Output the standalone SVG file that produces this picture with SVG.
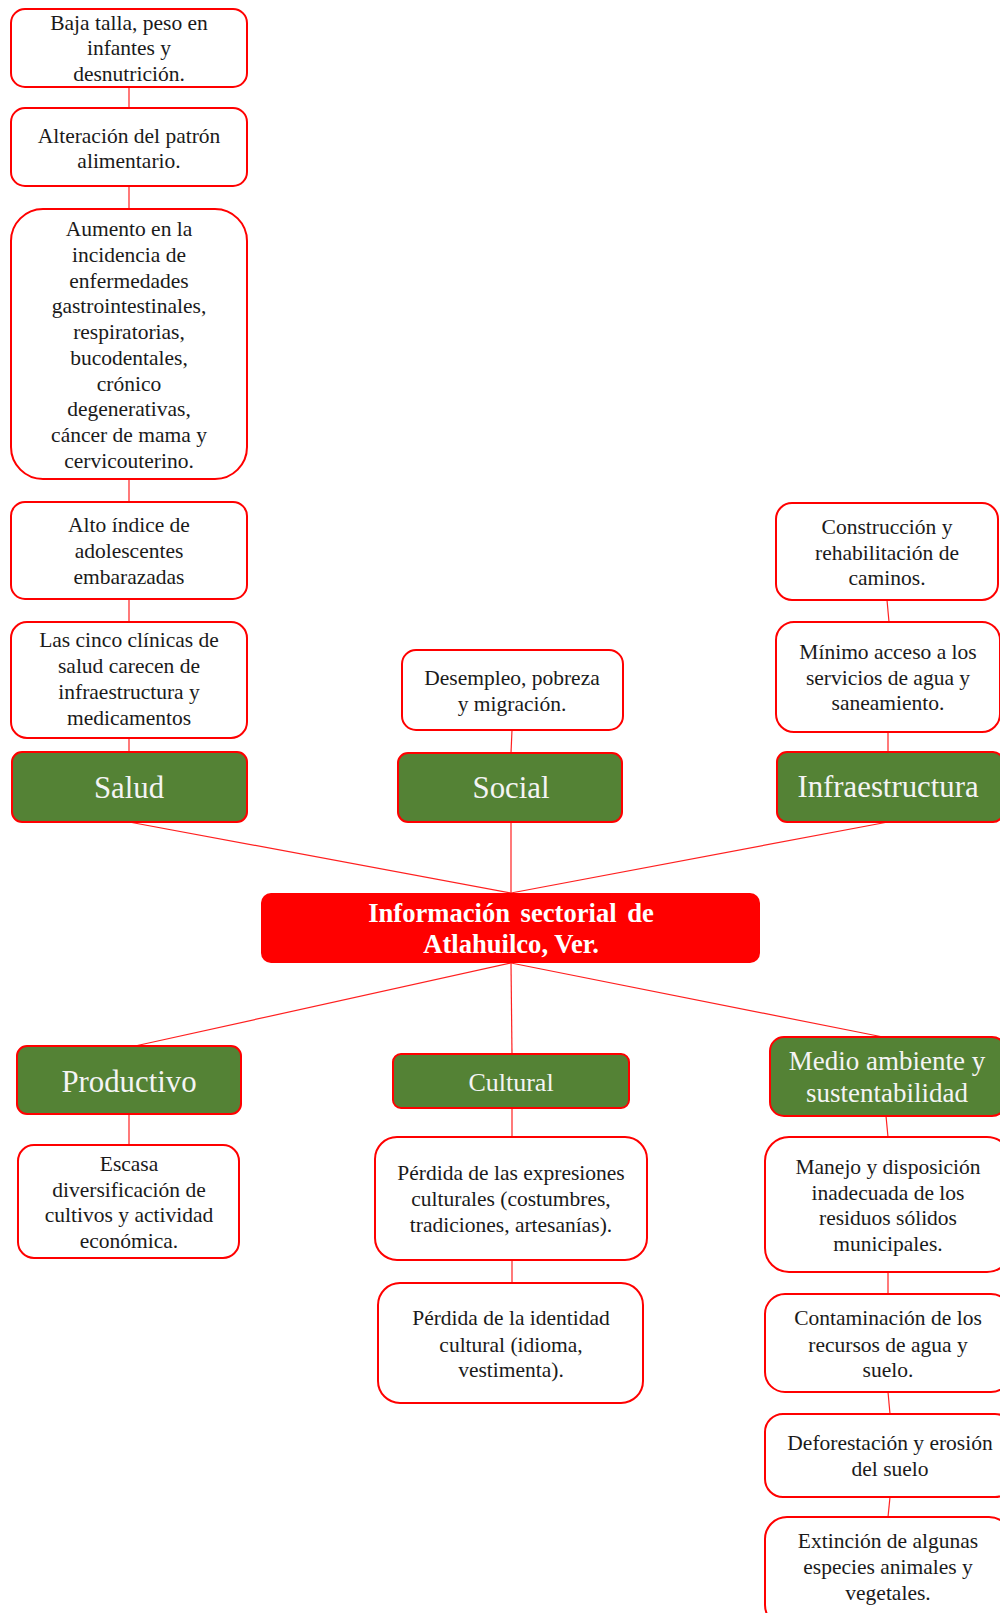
<svg xmlns="http://www.w3.org/2000/svg" width="1000" height="1613" viewBox="0 0 1000 1613">
<style>
.box{fill:#fff;stroke:#ff0000;stroke-width:2}
.hdr{fill:#548235;stroke:#ff0000;stroke-width:2}
.t{font-family:"Liberation Serif","Times New Roman",serif;font-size:21.5px;fill:#1a1a1a;text-anchor:middle}
.h{font-family:"Liberation Serif","Times New Roman",serif;font-size:30.8px;fill:#f4f4f4;text-anchor:middle}
.title{font-family:"Liberation Serif","Times New Roman",serif;font-size:26.6px;font-weight:bold;fill:#fff;text-anchor:middle}
.c line{stroke:#ff2020;stroke-width:1.2}
</style>
<rect width="1000" height="1613" fill="#fff"/>
<g class="c" id="connectors">
<line x1="129" y1="87" x2="129" y2="108"/>
<line x1="129" y1="186" x2="129" y2="209"/>
<line x1="129" y1="479" x2="129" y2="502"/>
<line x1="129" y1="599" x2="129" y2="622"/>
<line x1="129" y1="738" x2="129" y2="752"/>
<line x1="512" y1="730" x2="511" y2="753"/>
<line x1="887" y1="600" x2="889" y2="622"/>
<line x1="888" y1="732" x2="888" y2="752"/>
<line x1="129" y1="822" x2="511" y2="893"/>
<line x1="511" y1="822" x2="511" y2="893"/>
<line x1="888" y1="822" x2="511" y2="893"/>
<line x1="511" y1="963" x2="135" y2="1046"/>
<line x1="511" y1="963" x2="512" y2="1054"/>
<line x1="511" y1="963" x2="883" y2="1037"/>
<line x1="129" y1="1114" x2="129" y2="1145"/>
<line x1="512" y1="1108" x2="512" y2="1137"/>
<line x1="512" y1="1260" x2="512" y2="1283"/>
<line x1="886" y1="1116" x2="888" y2="1137"/>
<line x1="888" y1="1272" x2="888" y2="1294"/>
<line x1="888" y1="1392" x2="890" y2="1414"/>
<line x1="890" y1="1497" x2="888" y2="1517"/>
</g>
<g id="n-baja"><rect class="box" x="11" y="9" width="236" height="78" rx="14"/>
<text class="t" x="129" y="30">Baja talla, peso en</text><text class="t" x="129" y="55">infantes y</text><text class="t" x="129" y="81">desnutrición.</text></g>
<g id="n-alteracion"><rect class="box" x="11" y="108" width="236" height="78" rx="14"/>
<text class="t" x="129" y="143">Alteración del patrón</text><text class="t" x="129" y="168">alimentario.</text></g>
<g id="n-aumento"><rect class="box" x="11" y="209" width="236" height="270" rx="32"/>
<text class="t" x="129" y="236">Aumento en la</text>
<text class="t" x="129" y="262">incidencia de</text>
<text class="t" x="129" y="288">enfermedades</text>
<text class="t" x="129" y="313">gastrointestinales,</text>
<text class="t" x="129" y="339">respiratorias,</text>
<text class="t" x="129" y="365">bucodentales,</text>
<text class="t" x="129" y="391">crónico</text>
<text class="t" x="129" y="416">degenerativas,</text>
<text class="t" x="129" y="442">cáncer de mama y</text>
<text class="t" x="129" y="468">cervicouterino.</text></g>
<g id="n-alto"><rect class="box" x="11" y="502" width="236" height="97" rx="14"/>
<text class="t" x="129" y="532">Alto índice de</text><text class="t" x="129" y="558">adolescentes</text><text class="t" x="129" y="584">embarazadas</text></g>
<g id="n-clinicas"><rect class="box" x="11" y="622" width="236" height="116" rx="16"/>
<text class="t" x="129" y="647">Las cinco clínicas de</text><text class="t" x="129" y="673">salud carecen de</text><text class="t" x="129" y="699">infraestructura y</text><text class="t" x="129" y="725">medicamentos</text></g>
<g id="n-salud"><rect class="hdr" x="12" y="752" width="235" height="70" rx="10"/><text class="h" x="129" y="798">Salud</text></g>
<g id="n-desempleo"><rect class="box" x="402" y="650" width="221" height="80" rx="14"/>
<text class="t" x="512" y="685">Desempleo, pobreza</text><text class="t" x="512" y="711">y migración.</text></g>
<g id="n-social"><rect class="hdr" x="398" y="753" width="224" height="69" rx="10"/><text class="h" x="511" y="798">Social</text></g>
<g id="n-construccion"><rect class="box" x="776" y="503" width="222" height="97" rx="16"/>
<text class="t" x="887" y="534">Construcción y</text><text class="t" x="887" y="560">rehabilitación de</text><text class="t" x="887" y="585">caminos.</text></g>
<g id="n-minimo"><rect class="box" x="776" y="622" width="224" height="110" rx="18"/>
<text class="t" x="888" y="659">Mínimo acceso a los</text><text class="t" x="888" y="685">servicios de agua y</text><text class="t" x="888" y="710">saneamiento.</text></g>
<g id="n-infra"><rect class="hdr" x="777" y="752" width="226" height="70" rx="10"/><text class="h" x="888" y="797">Infraestructura</text></g>
<g id="n-center"><rect x="261" y="893" width="499" height="70" rx="10" fill="#ff0000"/>
<text class="title" x="511" y="922" word-spacing="4">Información sectorial de</text><text class="title" x="511" y="953">Atlahuilco, Ver.</text></g>
<g id="n-productivo"><rect class="hdr" x="17" y="1046" width="224" height="68" rx="10"/><text class="h" x="129" y="1092">Productivo</text></g>
<g id="n-escasa"><rect class="box" x="18" y="1145" width="221" height="113" rx="16"/>
<text class="t" x="129" y="1171">Escasa</text><text class="t" x="129" y="1197">diversificación de</text><text class="t" x="129" y="1222">cultivos y actividad</text><text class="t" x="129" y="1248">económica.</text></g>
<g id="n-cultural"><rect class="hdr" x="393" y="1054" width="236" height="54" rx="8"/><text class="h" x="511" y="1091" style="font-size:26px">Cultural</text></g>
<g id="n-expresiones"><rect class="box" x="375" y="1137" width="272" height="123" rx="22"/>
<text class="t" x="511" y="1180">Pérdida de las expresiones</text><text class="t" x="511" y="1206">culturales (costumbres,</text><text class="t" x="511" y="1232">tradiciones, artesanías).</text></g>
<g id="n-identidad"><rect class="box" x="378" y="1283" width="265" height="120" rx="22"/>
<text class="t" x="511" y="1325">Pérdida de la identidad</text><text class="t" x="511" y="1352">cultural (idioma,</text><text class="t" x="511" y="1377">vestimenta).</text></g>
<g id="n-medio"><rect class="hdr" x="770" y="1037" width="236" height="79" rx="14"/>
<text class="h" x="887" y="1070" style="font-size:27px">Medio ambiente y</text><text class="h" x="887" y="1102" style="font-size:27px">sustentabilidad</text></g>
<g id="n-manejo"><rect class="box" x="765" y="1137" width="246" height="135" rx="24"/>
<text class="t" x="888" y="1174">Manejo y disposición</text><text class="t" x="888" y="1200">inadecuada de los</text><text class="t" x="888" y="1225">residuos sólidos</text><text class="t" x="888" y="1251">municipales.</text></g>
<g id="n-contaminacion"><rect class="box" x="765" y="1294" width="246" height="98" rx="20"/>
<text class="t" x="888" y="1325">Contaminación de los</text><text class="t" x="888" y="1352">recursos de agua y</text><text class="t" x="888" y="1377">suelo.</text></g>
<g id="n-deforestacion"><rect class="box" x="765" y="1414" width="248" height="83" rx="18"/>
<text class="t" x="890" y="1450">Deforestación y erosión</text><text class="t" x="890" y="1476">del suelo</text></g>
<g id="n-extincion"><rect class="box" x="765" y="1517" width="246" height="110" rx="22"/>
<text class="t" x="888" y="1548">Extinción de algunas</text><text class="t" x="888" y="1574">especies animales y</text><text class="t" x="888" y="1600">vegetales.</text></g>
</svg>
